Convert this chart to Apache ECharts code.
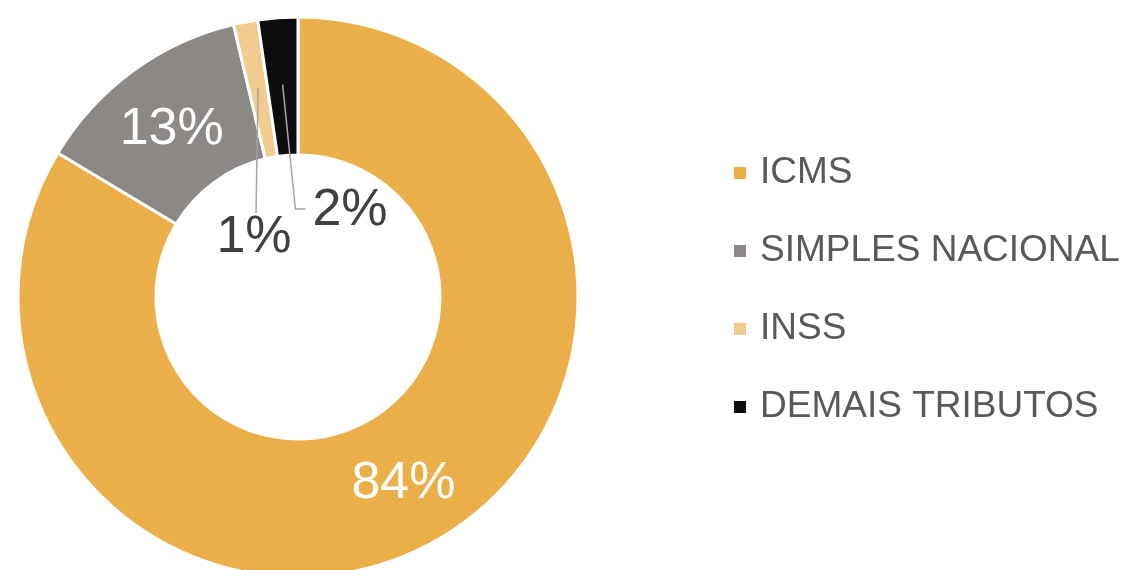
<!DOCTYPE html>
<html>
<head>
<meta charset="utf-8">
<script src="https://cdn.jsdelivr.net/npm/echarts@6/dist/echarts.min.js"></script>
<style>
  html, body { margin: 0; padding: 0; background: #fff; }
  #chart { width: 1123px; height: 570px; }
</style>
</head>
<body>
<div id="chart"></div>
<script>
// dados
var categorias = ["ICMS", "SIMPLES NACIONAL", "INSS", "DEMAIS TRIBUTOS"];
var valores = [83.6, 12.7, 1.4, 2.3];
var cores = ["#EAAF48", "#8C8886", "#F2CC8F", "#0D0D0D"];

var centro = [298, 297];
var raios = [142, 280];

// posição dos rótulos das fatias pequenas (dentro do furo)
var rotulosFora = {
  2: { x: 254, y: 238 },
  3: { x: 350, y: 211 }
};

var fonte = "Liberation Sans, Arial, sans-serif";
var myChart = echarts.init(document.getElementById("chart"));

// ponto no meio do anel, no ângulo médio da fatia
function pontoMeio(idx) {
  var total = valores.reduce(function (a, b) { return a + b; }, 0);
  var acc = 0;
  for (var i = 0; i < idx; i++) acc += valores[i];
  var meio = (acc + valores[idx] / 2) / total * Math.PI * 2;
  var r = (raios[0] + raios[1]) / 2 + 2;
  return [centro[0] + r * Math.sin(meio), centro[1] - r * Math.cos(meio)];
}

function rotulo(p) {
  return Math.round(p.value) + "%";
}

// série principal: fatias + rótulos internos
var dadosFatias = categorias.map(function (nome, i) {
  return {
    name: nome,
    value: valores[i],
    itemStyle: { color: cores[i] },
    label: {
      show: rotulosFora[i] == null,
      offset: i === 1 ? [0, 5] : [0, 0]
    }
  };
});

// série de cima (transparente): só rótulos das fatias pequenas com linha guia
var dadosRotulos = categorias.map(function (nome, i) {
  var fora = rotulosFora[i] != null;
  return {
    name: nome,
    value: valores[i],
    label: { show: fora },
    labelLine: { show: fora }
  };
});

myChart.setOption({
  backgroundColor: "#ffffff",
  legend: {
    orient: "vertical",
    left: 727,
    top: 148,
    icon: "rect",
    itemWidth: 14,
    itemHeight: 14,
    itemGap: 38,
    selectedMode: false,
    data: categorias,
    textStyle: {
      fontFamily: fonte,
      fontSize: 37,
      lineHeight: 40,
      color: "#595959",
      padding: [0, 0, 0, 8]
    }
  },
  series: [
    {
      type: "pie",
      center: centro,
      radius: raios,
      startAngle: 90,
      clockwise: true,
      avoidLabelOverlap: false,
      animation: false,
      silent: true,
      itemStyle: {
        borderColor: "#ffffff",
        borderWidth: 3
      },
      label: {
        position: "inside",
        formatter: rotulo,
        fontFamily: fonte,
        fontSize: 52,
        color: "#ffffff"
      },
      labelLine: { show: false },
      data: dadosFatias
    },
    {
      type: "pie",
      z: 5,
      center: centro,
      radius: raios,
      startAngle: 90,
      clockwise: true,
      avoidLabelOverlap: false,
      animation: false,
      silent: true,
      itemStyle: { color: "rgba(0,0,0,0)", borderWidth: 0 },
      label: {
        position: "outside",
        formatter: rotulo,
        fontFamily: fonte,
        fontSize: 52,
        color: "#404040"
      },
      labelLine: {
        lineStyle: { color: "#A6A6A6", width: 1.5 }
      },
      labelLayout: function (params) {
        var pos = rotulosFora[params.dataIndex];
        if (!pos) return {};
        var inicio = pontoMeio(params.dataIndex);
        var w = params.labelRect.width;
        var h = params.labelRect.height;
        var pts;
        if (params.dataIndex === 2) {
          pts = [inicio, [pos.x + 2, pos.y - h / 2 + 1], [pos.x + 2, pos.y - h / 2 + 1]];
        } else {
          pts = [inicio, [pos.x - w / 2 - 17, pos.y - 2], [pos.x - w / 2 - 7, pos.y - 2]];
        }
        return {
          x: pos.x,
          y: pos.y,
          align: "center",
          verticalAlign: "middle",
          labelLinePoints: pts
        };
      },
      data: dadosRotulos
    }
  ]
});
</script>
</body>
</html>
